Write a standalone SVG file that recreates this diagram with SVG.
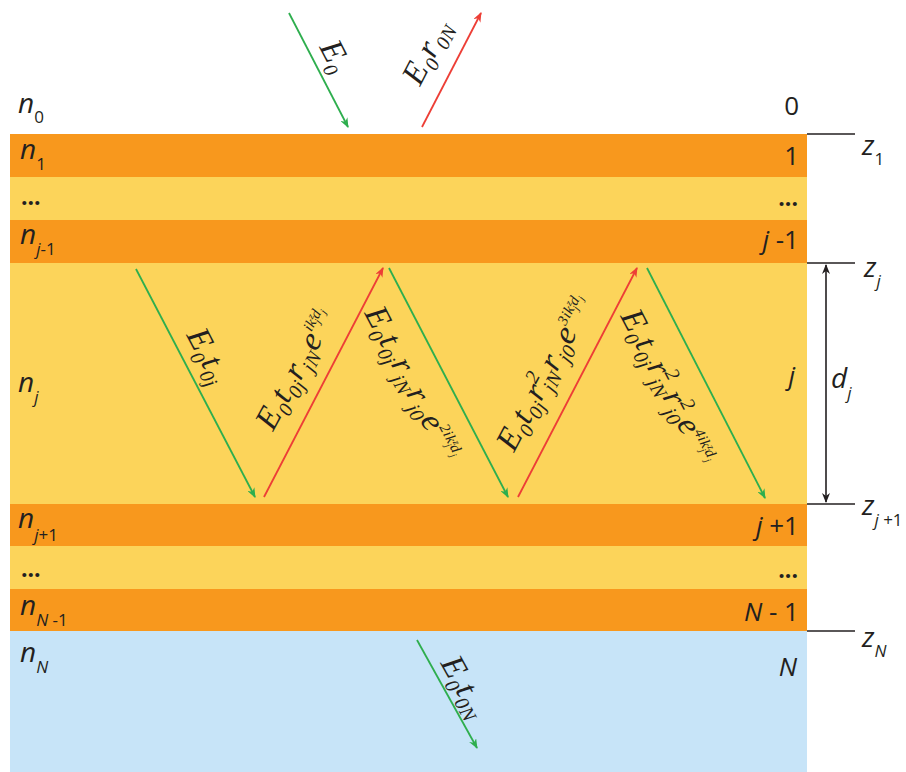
<svg xmlns="http://www.w3.org/2000/svg" width="906" height="772" viewBox="0 0 906 772">
<style>
.lo{fill:#F8981D}.ly{fill:#FCD45A}.lb{fill:#C7E4F8}
.n{font-family:"Open Sans","Liberation Sans",sans-serif;font-style:italic;font-size:28px;fill:#231F20}
.u{font-style:normal}
.sb{font-size:17px}
.num{font-family:"Open Sans","Liberation Sans",sans-serif;font-size:26px;fill:#231F20;text-anchor:end}
.dots{font-family:"Open Sans","Liberation Sans",sans-serif;font-size:23px;font-weight:bold;fill:#231F20}
.m{font-family:"Liberation Serif","Times New Roman",serif;font-style:italic;font-size:33px;fill:#231F20;letter-spacing:0.5px}
.s{font-size:20px}
.p{font-size:15px}
.t{font-size:10px}
.g{stroke:#2EAE4E;stroke-width:1.8;fill:none;marker-end:url(#ag)}
.r{stroke:#ED3E36;stroke-width:1.8;fill:none;marker-end:url(#ar)}
.k{stroke:#231F20;stroke-width:1.6;fill:none}
</style>
<defs>
<marker id="ag" markerUnits="userSpaceOnUse" markerWidth="10" markerHeight="8" refX="9" refY="4" orient="auto"><path d="M0,0 L10,4 L0,8 L3,4 z" fill="#2EAE4E"/></marker>
<marker id="ar" markerUnits="userSpaceOnUse" markerWidth="10" markerHeight="8" refX="9" refY="4" orient="auto"><path d="M0,0 L10,4 L0,8 L3,4 z" fill="#ED3E36"/></marker>
<marker id="ak" markerUnits="userSpaceOnUse" markerWidth="10" markerHeight="8" refX="9" refY="4" orient="auto-start-reverse"><path d="M0,0 L10,4 L0,8 L3,4 z" fill="#231F20"/></marker>
</defs>

<g id="layers">
<rect class="lo" x="10" y="134" width="797" height="43"/>
<rect class="ly" x="10" y="177" width="797" height="43"/>
<rect class="lo" x="10" y="220" width="797" height="43"/>
<rect class="ly" x="10" y="263" width="797" height="241"/>
<rect class="lo" x="10" y="504" width="797" height="42"/>
<rect class="ly" x="10" y="546" width="797" height="43"/>
<rect class="lo" x="10" y="589" width="797" height="42"/>
<rect class="lb" x="10" y="631" width="797" height="141"/>
</g>

<g id="left-labels">
<text class="n" x="18" y="113">n<tspan class="sb u" dy="10">0</tspan></text>
<text class="n" x="20" y="159">n<tspan class="sb u" dy="11">1</tspan></text>
<text class="dots" x="21" y="205">...</text>
<text class="n" x="20" y="244">n<tspan class="sb" dy="11">j</tspan><tspan class="sb u">-1</tspan></text>
<text class="n" x="18" y="392">n<tspan class="sb" dy="11">j</tspan></text>
<text class="n" x="18" y="528">n<tspan class="sb" dy="13">j</tspan><tspan class="sb u">+1</tspan></text>
<text class="dots" x="21" y="577">...</text>
<text class="n" x="20" y="615">n<tspan class="sb" dy="11">N</tspan><tspan class="sb u"> -1</tspan></text>
<text class="n" x="20" y="662">n<tspan class="sb" dy="11">N</tspan></text>
</g>

<g id="right-labels">
<text class="num" x="799" y="115">0</text>
<text class="num" x="799" y="165">1</text>
<text class="dots" x="798" y="206" text-anchor="end">...</text>
<text class="num" x="799" y="249"><tspan font-style="italic">j</tspan> -1</text>
<text class="num" x="795" y="385" font-style="italic">j</text>
<text class="num" x="799" y="535"><tspan font-style="italic">j</tspan> +1</text>
<text class="dots" x="798" y="578" text-anchor="end">...</text>
<text class="num" x="799" y="621"><tspan font-style="italic">N</tspan> - 1</text>
<text class="num" x="797" y="676" font-style="italic">N</text>
</g>

<g id="z-markers">
<line class="k" x1="807" y1="134" x2="855" y2="134"/>
<line class="k" x1="807" y1="263" x2="855" y2="263"/>
<line class="k" x1="807" y1="504" x2="855" y2="504"/>
<line class="k" x1="807" y1="631" x2="855" y2="631"/>
<text class="n" x="862" y="155">z<tspan class="sb u" dy="10">1</tspan></text>
<text class="n" x="864" y="277">z<tspan class="sb" dy="10">j</tspan></text>
<text class="n" x="862" y="515">z<tspan class="sb" dy="11">j</tspan><tspan class="sb u"> +1</tspan></text>
<text class="n" x="862" y="647">z<tspan class="sb" dy="10">N</tspan></text>
</g>

<g id="thickness">
<line class="k" x1="826" y1="265" x2="826" y2="502" marker-start="url(#ak)" marker-end="url(#ak)"/>
<text class="n" x="831" y="388">d<tspan class="sb" dy="11">j</tspan></text>
</g>

<g id="connectors">
<line class="g" x1="289" y1="13" x2="348" y2="127"/>
<line class="r" x1="422" y1="127" x2="481" y2="13"/>
<line class="g" x1="136" y1="269" x2="255" y2="497"/>
<line class="r" x1="264" y1="497" x2="383" y2="268"/>
<line class="g" x1="389" y1="268" x2="508" y2="497"/>
<line class="r" x1="518" y1="497" x2="637" y2="268"/>
<line class="g" x1="647" y1="268" x2="765" y2="498"/>
<line class="g" x1="417" y1="640" x2="477" y2="748"/>
</g>

<g id="labels">
<text class="m" transform="translate(319,47) rotate(62.6)">E<tspan class="s" dy="7">0</tspan></text>
<text class="m" transform="translate(420,87) rotate(-62.6)">E<tspan class="s" dy="7">0</tspan><tspan dy="-7">r</tspan><tspan class="s" dy="7">0N</tspan></text>
<text class="m" transform="translate(186,335) rotate(62.4)">E<tspan class="s" dy="7">0</tspan><tspan dy="-7">t</tspan><tspan class="s" dy="7">0j</tspan></text>
<text class="m" transform="translate(273,432) rotate(-61.5)">E<tspan class="s" dy="7">0</tspan><tspan dy="-7">t</tspan><tspan class="s" dy="7">0j</tspan><tspan dy="-7">r</tspan><tspan class="s" dy="7">jN</tspan><tspan dy="-7">e</tspan><tspan class="p" dy="-14">ik</tspan><tspan class="t" dy="-5">z</tspan><tspan class="t" dx="-5" dy="9">j</tspan><tspan class="p" dy="-4">d</tspan><tspan class="t" dy="4">j</tspan></text>
<text class="m" transform="translate(364,313) rotate(62.5)">E<tspan class="s" dy="7">0</tspan><tspan dy="-7">t</tspan><tspan class="s" dy="7">0j</tspan><tspan dy="-7">r</tspan><tspan class="s" dy="7">jN</tspan><tspan dy="-7">r</tspan><tspan class="s" dy="7">j0</tspan><tspan dy="-7">e</tspan><tspan class="p" dy="-14">2ik</tspan><tspan class="t" dy="-5">z</tspan><tspan class="t" dx="-5" dy="9">j</tspan><tspan class="p" dy="-4">d</tspan><tspan class="t" dy="4">j</tspan></text>
<text class="m" transform="translate(514,453) rotate(-62)">E<tspan class="s" dy="7">0</tspan><tspan dy="-7">t</tspan><tspan class="s" dy="7">0j</tspan><tspan dy="-7">r</tspan><tspan class="s" dy="-13">2</tspan><tspan class="s" dx="-10" dy="20">jN</tspan><tspan dy="-7">r</tspan><tspan class="s" dy="7">j0</tspan><tspan dy="-7">e</tspan><tspan class="p" dy="-14">3ik</tspan><tspan class="t" dy="-5">z</tspan><tspan class="t" dx="-5" dy="9">j</tspan><tspan class="p" dy="-4">d</tspan><tspan class="t" dy="4">j</tspan></text>
<text class="m" transform="translate(620,316) rotate(62.5)">E<tspan class="s" dy="7">0</tspan><tspan dy="-7">t</tspan><tspan class="s" dy="7">0j</tspan><tspan dy="-7">r</tspan><tspan class="s" dy="-13">2</tspan><tspan class="s" dx="-10" dy="20">jN</tspan><tspan dy="-7">r</tspan><tspan class="s" dy="-13">2</tspan><tspan class="s" dx="-10" dy="20">j0</tspan><tspan dy="-7">e</tspan><tspan class="p" dy="-12">4ik</tspan><tspan class="t" dy="-5">z</tspan><tspan class="t" dx="-5" dy="9">j</tspan><tspan class="p" dy="-4">d</tspan><tspan class="t" dy="4">j</tspan></text>
<text class="m" transform="translate(440,663) rotate(61)">E<tspan class="s" dy="7">0</tspan><tspan dy="-7">t</tspan><tspan class="s" dy="7">0N</tspan></text>
</g>
</svg>
